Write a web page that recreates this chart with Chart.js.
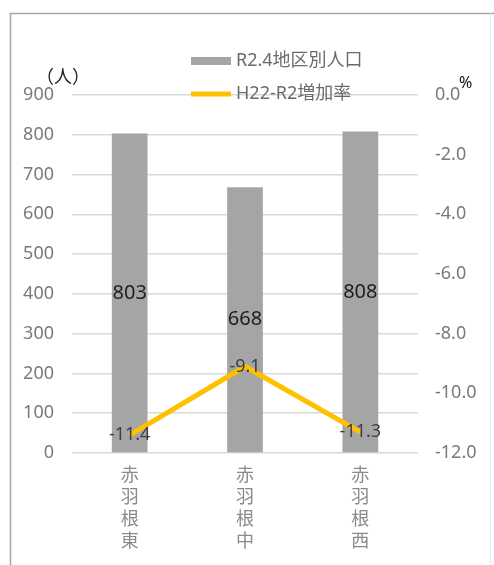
<!DOCTYPE html>
<html>
<head>
<meta charset="utf-8">
<script src="https://cdn.jsdelivr.net/npm/chart.js@4.4.1/dist/chart.umd.min.js"></script>
<style>
  html, body { margin: 0; padding: 0; background: #fff; }
  #wrap { width: 494px; height: 565px; position: relative; }
</style>
</head>
<body>
<div id="wrap"><canvas id="c" width="494" height="565"></canvas></div>
<script>
// Districts (labels stacked vertically, one character per line)
const districts = ['赤羽根東', '赤羽根中', '赤羽根西'];
// R2.4 population by district (people)
const population = [803, 668, 808];
// H22-R2 growth rate (%)
const growthRate = [-11.4, -9.1, -11.3];
// Axis tick settings
const popTicks = { min: 0, max: 900, step: 100 };
const rateTicks = { min: -12, max: 0, step: 2 };

const seriesNames = ['R2.4地区別人口', 'H22-R2増加率'];
const FONT = '"Noto Sans", "Noto Sans CJK JP", sans-serif';

// Frame, axis units, value labels and legend drawn on the canvas
const decorations = {
  id: 'decorations',
  beforeDraw(chart) {
    const ctx = chart.ctx;
    ctx.save();
    ctx.fillStyle = '#fff';
    ctx.fillRect(0, 0, chart.width, chart.height);
    ctx.strokeStyle = '#a6a6a6';
    ctx.lineWidth = 1.5;
    ctx.beginPath();
    ctx.moveTo(10.5, chart.height);
    ctx.lineTo(10.5, 13.5);
    ctx.lineTo(chart.width, 13.5);
    ctx.stroke();
    ctx.strokeStyle = '#ececec';
    ctx.lineWidth = 1;
    ctx.beginPath();
    ctx.moveTo(490.5, 13.5);
    ctx.lineTo(490.5, chart.height);
    ctx.stroke();
    ctx.restore();
  },
  afterDatasetsDraw(chart) {
    const ctx = chart.ctx;
    ctx.save();
    ctx.textAlign = 'center';
    ctx.textBaseline = 'middle';
    // population values centred inside each bar
    const barMeta = chart.getDatasetMeta(0);
    ctx.font = '20px ' + FONT;
    ctx.fillStyle = '#1e1e1e';
    barMeta.data.forEach((bar, i) => {
      const mid = (bar.y + bar.base) / 2;
      ctx.fillText(String(population[i]), bar.x, mid);
    });
    // growth rates centred on each line point
    const lineMeta = chart.getDatasetMeta(1);
    ctx.font = '18px ' + FONT;
    ctx.fillStyle = '#3a3f47';
    lineMeta.data.forEach((pt, i) => {
      ctx.fillText(growthRate[i].toFixed(1), pt.x, pt.y);
    });

    // axis unit captions
    ctx.textAlign = 'left';
    ctx.textBaseline = 'middle';
    ctx.fillStyle = '#222';
    ctx.font = '18px "Noto Sans CJK JP", sans-serif';
    ctx.fillText('（人）', 36, 76);
    ctx.font = '16px ' + FONT;
    ctx.fillStyle = '#111';
    ctx.fillText('%', 459, 83);

    // legend
    const ds = chart.data.datasets;
    ctx.font = '18px ' + FONT;
    ctx.fillStyle = ds[0].backgroundColor;
    ctx.fillRect(191, 57, 40, 8);
    ctx.fillStyle = '#6b6b6b';
    ctx.fillText(seriesNames[0], 236, 61);
    ctx.strokeStyle = ds[1].borderColor;
    ctx.lineWidth = 5;
    ctx.beginPath();
    ctx.moveTo(191, 94);
    ctx.lineTo(231, 94);
    ctx.stroke();
    ctx.fillStyle = '#6b6b6b';
    ctx.fillText(seriesNames[1], 236, 94);
    ctx.restore();
  }
};

const ctx = document.getElementById('c').getContext('2d');
new Chart(ctx, {
  data: {
    labels: districts.map(d => d.split('')),
    datasets: [
      {
        type: 'bar',
        label: seriesNames[0],
        data: population,
        backgroundColor: '#a5a5a5',
        yAxisID: 'y',
        barPercentage: 0.31,
        categoryPercentage: 1.0,
        order: 2
      },
      {
        type: 'line',
        label: seriesNames[1],
        data: growthRate,
        borderColor: '#ffc000',
        backgroundColor: '#ffc000',
        borderWidth: 5,
        pointRadius: 0,
        tension: 0,
        yAxisID: 'y1',
        order: 1
      }
    ]
  },
  options: {
    responsive: false,
    animation: false,
    devicePixelRatio: 1,
    layout: { padding: { top: 95, left: 0, right: 0, bottom: 0 } },
    plugins: {
      legend: { display: false },
      tooltip: { enabled: false }
    },
    scales: {
      x: {
        grid: { display: false, drawTicks: false },
        border: { display: false },
        ticks: {
          color: '#8a8a8a',
          font: { family: '"Noto Sans CJK JP", sans-serif', size: 18, lineHeight: 1.22 },
          padding: 10,
          maxRotation: 0,
          autoSkip: false
        },
        afterFit(s) { s.height = 112; }
      },
      y: {
        position: 'left',
        min: popTicks.min,
        max: popTicks.max,
        grid: { color: '#d9d9d9', lineWidth: 1.5, drawTicks: false },
        border: { display: false },
        ticks: {
          stepSize: popTicks.step,
          color: '#7a7a7a',
          font: { family: FONT, size: 18 },
          padding: 18
        },
        afterFit(s) { s.width = 72; }
      },
      y1: {
        position: 'right',
        min: rateTicks.min,
        max: rateTicks.max,
        grid: { display: false, drawTicks: false },
        border: { display: false },
        ticks: {
          stepSize: rateTicks.step,
          color: '#7a7a7a',
          font: { family: FONT, size: 18 },
          padding: 17,
          callback: v => Number(v).toFixed(1)
        },
        afterFit(s) { s.width = 76; }
      }
    }
  },
  plugins: [decorations]
});
</script>
</body>
</html>
